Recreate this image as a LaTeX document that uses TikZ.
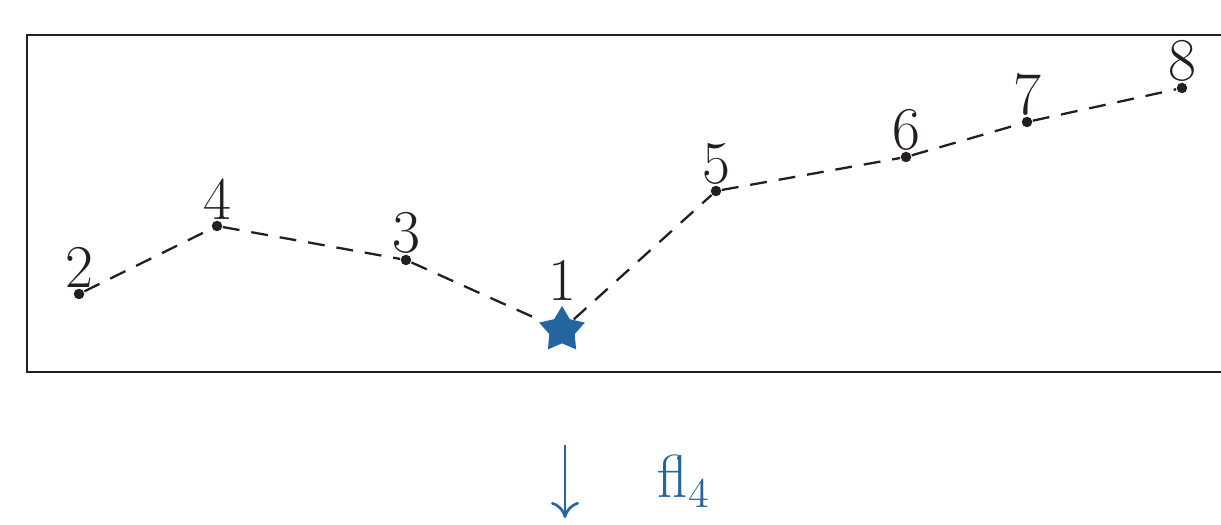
\documentclass[tikz,border=0pt]{standalone}
\usepackage{amsmath,amssymb}
\usepackage{tikz}
\usetikzlibrary{shapes.geometric,arrows.meta,positioning}

\definecolor{starblue}{RGB}{34,101,161}
\definecolor{inkgray}{RGB}{35,31,32}

\begin{document}
\begin{tikzpicture}[
                    x=0.01cm, y=-0.01cm,
                    dot/.style={circle, fill=inkgray, inner sep=0pt, minimum size=0.105cm,
                                label={[inner sep=0pt, font=\LARGE, text=inkgray]above:#1}},
                    beststar/.style={star, star points=5, star point ratio=1.8, fill=starblue,
                                inner sep=0pt, minimum size=0.48cm,
                                label={[inner sep=0pt, font=\LARGE, text=inkgray, yshift=1pt]above:#1}},
                    walk/.style={draw=inkgray, dash pattern=on 4.8pt off 3.4pt, line width=0.65pt},
                    frame/.style={draw=inkgray, line width=0.65pt}
                ]
                    \useasboundingbox (0,0) rectangle (1221,525);
                    \draw[frame] (1240,35) -- (27,35) -- (27,372) -- (1240,372);

                    % visited points
                    \node[dot=2] (p2) at (79,294) {};
                    \node[dot=4] (p4) at (217,226) {};
                    \node[dot=3] (p3) at (406,260) {};
                    \node[beststar=1] (p1) at (562,330) {};
                    \node[dot=5] (p5) at (716,191) {};
                    \node[dot=6] (p6) at (906,157) {};
                    \node[dot=7] (p7) at (1027,122) {};
                    \node[dot=8] (p8) at (1182,88) {};

                    \draw[walk] (p2) -- (p4) -- (p3) -- (p1) -- (p5) -- (p6) -- (p7) -- (p8);

                    % step below
                    \coordinate (a1) at (565,445);
                    \coordinate (a2) at (565,518);
                    \draw[starblue, line width=0.75pt, -{To[length=1.6mm, width=2.8mm]}] (a1) -- (a2);
                    \node[text=starblue, font=\LARGE, anchor=base west, inner sep=0pt] (fl) at (657,498) {fl$_4$};
                \end{tikzpicture}
\end{document}
